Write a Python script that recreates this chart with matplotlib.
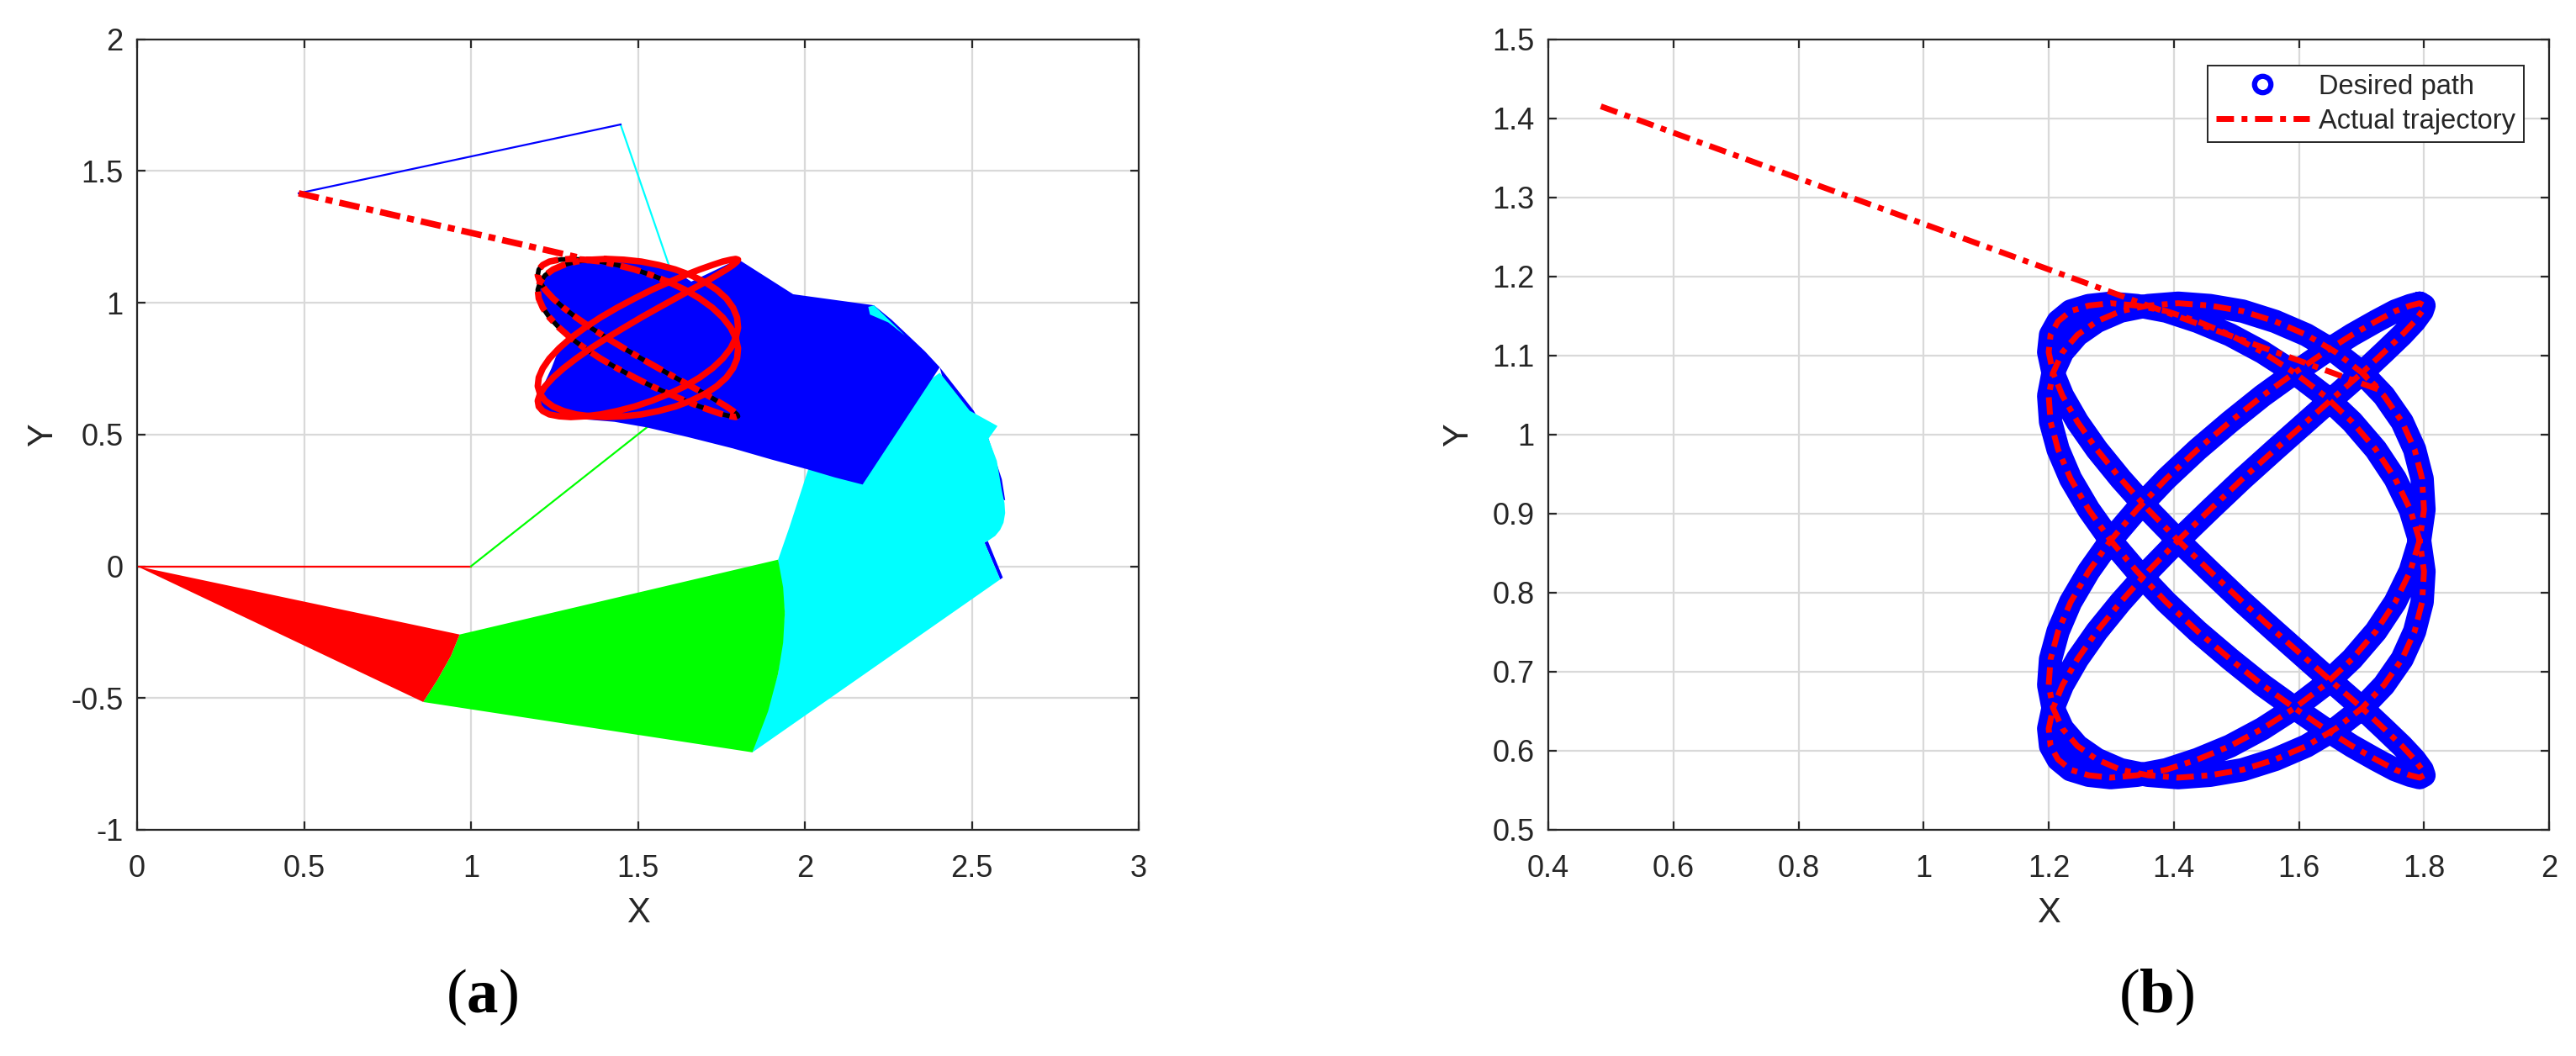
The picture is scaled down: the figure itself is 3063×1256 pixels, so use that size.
import matplotlib
matplotlib.use("Agg")
import matplotlib.pyplot as plt
from matplotlib.lines import Line2D

plt.rcParams['font.family'] = ['Liberation Sans', 'DejaVu Sans']
plt.rcParams['mathtext.fontset'] = 'custom'
plt.rcParams['mathtext.bf'] = 'Liberation Serif:bold'
plt.rcParams['mathtext.rm'] = 'Liberation Serif'

W, H = 3063, 1256
INK = '#262626'
GRID = '#d9d9d9'

# path, one lap
desired_x = [1.793, 1.800, 1.797, 1.785, 1.765, 1.736, 1.701, 1.659, 1.612, 1.562, 1.510, 1.458,
             1.407, 1.359, 1.315, 1.277, 1.246, 1.222, 1.207, 1.200, 1.203, 1.215, 1.235, 1.264,
             1.299, 1.341, 1.388, 1.438, 1.490, 1.542, 1.593, 1.641, 1.685, 1.723, 1.754, 1.778,
             1.793, 1.800, 1.797, 1.785, 1.765, 1.736, 1.701, 1.659, 1.612, 1.562, 1.510, 1.458,
             1.407, 1.359, 1.315, 1.277, 1.246, 1.222, 1.207, 1.200, 1.203, 1.215, 1.235, 1.264,
             1.299, 1.341, 1.388, 1.438, 1.490, 1.542, 1.593, 1.641, 1.685, 1.723, 1.754, 1.778,
             1.793, 1.800, 1.797, 1.785, 1.765, 1.736, 1.701, 1.659, 1.612, 1.562, 1.510, 1.458,
             1.407, 1.359, 1.315, 1.277, 1.246, 1.222, 1.207, 1.200, 1.203, 1.215, 1.235, 1.264,
             1.299, 1.341, 1.388, 1.438, 1.490, 1.542, 1.593, 1.641, 1.685, 1.723, 1.754, 1.778,
             1.793, 1.800, 1.797, 1.785, 1.765, 1.736, 1.701, 1.659, 1.612, 1.562, 1.510, 1.458,
             1.407, 1.359, 1.315, 1.277, 1.246, 1.222, 1.207, 1.200, 1.203, 1.215, 1.235, 1.264,
             1.299, 1.341, 1.388, 1.438, 1.490, 1.542, 1.593, 1.641, 1.685, 1.723, 1.754, 1.778,
             1.793]
desired_y = [1.166, 1.163, 1.156, 1.143, 1.126, 1.104, 1.078, 1.049, 1.016, 0.981, 0.944, 0.905,
             0.866, 0.827, 0.788, 0.751, 0.716, 0.683, 0.654, 0.628, 0.606, 0.589, 0.576, 0.569,
             0.566, 0.569, 0.576, 0.589, 0.606, 0.628, 0.654, 0.683, 0.716, 0.751, 0.788, 0.827,
             0.866, 0.905, 0.944, 0.981, 1.016, 1.049, 1.078, 1.104, 1.126, 1.143, 1.156, 1.163,
             1.166, 1.163, 1.156, 1.143, 1.126, 1.104, 1.078, 1.049, 1.016, 0.981, 0.944, 0.905,
             0.866, 0.827, 0.788, 0.751, 0.716, 0.683, 0.654, 0.628, 0.606, 0.589, 0.576, 0.569,
             0.566, 0.569, 0.576, 0.589, 0.606, 0.628, 0.654, 0.683, 0.716, 0.751, 0.788, 0.827,
             0.866, 0.905, 0.944, 0.981, 1.016, 1.049, 1.078, 1.104, 1.126, 1.143, 1.156, 1.163,
             1.166, 1.163, 1.156, 1.143, 1.126, 1.104, 1.078, 1.049, 1.016, 0.981, 0.944, 0.905,
             0.866, 0.827, 0.788, 0.751, 0.716, 0.683, 0.654, 0.628, 0.606, 0.589, 0.576, 0.569,
             0.566, 0.569, 0.576, 0.589, 0.606, 0.628, 0.654, 0.683, 0.716, 0.751, 0.788, 0.827,
             0.866, 0.905, 0.944, 0.981, 1.016, 1.049, 1.078, 1.104, 1.126, 1.143, 1.156, 1.163,
             1.166]

# straight approach from the start point
approach_x = [0.484, 1.73]
approach_y = [1.415, 1.056]
approach_a_x = [0.484, 1.32]
approach_a_y = [1.415, 1.172]

# arm links, panel (a)
link1_x, link1_y = [0, 1], [0, 0]
link2_x, link2_y = [1, 1.71], [0, 0.71]
link3_x, link3_y = [1.71, 1.448], [0.71, 1.676]
link4_x, link4_y = [1.448, 0.484], [1.676, 1.415]

# swept areas, panel (a)
red_x = [0, 0.966, 0.94, 0.90, 0.857]
red_y = [0, -0.259, -0.34, -0.43, -0.515]
green_x = [0.966, 1.92, 1.935, 1.94, 1.935, 1.92, 1.89, 1.843, 0.857, 0.90, 0.94]
green_y = [-0.259, 0.025, -0.08, -0.177, -0.29, -0.407, -0.55, -0.706, -0.515, -0.43, -0.34]
cyan_x = [1.92, 1.954, 2.01, 2.404, 2.494, 2.577, 2.55, 2.575, 2.59, 2.598, 2.60, 2.595, 2.585, 2.57, 2.548,
          2.538, 2.585, 1.843, 1.92, 1.94]
cyan_y = [0.025, 0.149, 0.367, 0.734, 0.59, 0.532, 0.484, 0.40, 0.287, 0.24, 0.202, 0.165, 0.138, 0.115, 0.096,
          0.09, -0.05, -0.706, -0.407, -0.177]
blue_edge_x = [2.404, 2.506, 2.55, 2.59, 2.60, 2.50]
blue_edge_y = [0.755, 0.59, 0.484, 0.33, 0.25, 0.30]
blue_tip_x = [2.548, 2.593, 2.585, 2.538]
blue_tip_y = [0.096, -0.043, -0.05, 0.09]
blue_x = [1.80, 1.965, 2.207, 2.26, 2.31, 2.36, 2.404, 2.173, 2.09, 2.01, 1.90, 1.785, 1.65, 1.526, 1.43, 1.334,
          1.299, 1.264, 1.235, 1.215, 1.203, 1.20, 1.207, 1.222, 1.241, 1.264, 1.299, 1.264, 1.235, 1.215,
          1.203, 1.20, 1.207, 1.222, 1.246, 1.277, 1.315, 1.359, 1.407, 1.458, 1.51, 1.562, 1.612, 1.66]
blue_y = [1.165, 1.032, 0.99, 0.935, 0.875, 0.815, 0.755, 0.31, 0.337, 0.367, 0.405, 0.447, 0.49, 0.527, 0.548, 0.558,
          0.566, 0.569, 0.576, 0.589, 0.606, 0.63, 0.654, 0.70, 0.751, 0.827, 0.866, 0.905, 0.944, 0.981,
          1.016, 1.049, 1.078, 1.104, 1.126, 1.143, 1.156, 1.163, 1.166, 1.163, 1.156, 1.143, 1.12, 1.08]
sliver_x = [2.19, 2.207, 2.30, 2.25, 2.195]
sliver_y = [0.984, 0.99, 0.875, 0.925, 0.955]

xticks_a = [0, 0.5, 1, 1.5, 2, 2.5, 3]
yticks_a = [-1, -0.5, 0, 0.5, 1, 1.5, 2]
xticks_b = [0.4, 0.6, 0.8, 1, 1.2, 1.4, 1.6, 1.8, 2]
yticks_b = [0.5, 0.6, 0.7, 0.8, 0.9, 1, 1.1, 1.2, 1.3, 1.4, 1.5]


def style_axes(ax, xticks, yticks, ylabel_x):
    ax.set_xticks(xticks)
    ax.set_yticks(yticks)
    ax.set_xticklabels([f'{v:g}' for v in xticks])
    ax.set_yticklabels([f'{v:g}' for v in yticks])
    ax.set_xlim(xticks[0], xticks[-1])
    ax.set_ylim(yticks[0], yticks[-1])
    ax.grid(True, color=GRID, linewidth=1.6)
    ax.set_axisbelow(True)
    ax.tick_params(axis='x', direction='in', top=True, length=7, width=1.6, color=INK,
                   labelcolor=INK, labelsize=26, pad=21)
    ax.tick_params(axis='y', direction='in', right=True, length=7, width=1.6, color=INK,
                   labelcolor=INK, labelsize=26, pad=12)
    for sp in ax.spines.values():
        sp.set_color(INK)
        sp.set_linewidth(1.6)
    ax.set_xlabel('X', fontsize=30, color=INK)
    ax.set_ylabel('Y', fontsize=30, color=INK)
    ax.xaxis.set_label_coords(0.5, -0.084)
    ax.yaxis.set_label_coords(ylabel_x, 0.5)


fig = plt.figure(figsize=(W / 100, H / 100), dpi=100)
ax_a = fig.add_axes([163 / W, 1 - 987 / H, 1191 / W, 940.5 / H])
ax_b = fig.add_axes([1841 / W, 1 - 987 / H, 1190 / W, 940.5 / H])
style_axes(ax_a, xticks_a, yticks_a, -0.077)
style_axes(ax_b, xticks_b, yticks_b, -0.073)

# panel (a)
ax_a.plot(link1_x, link1_y, color='#ff0000', lw=1.6, zorder=2)
ax_a.plot(link2_x, link2_y, color='#00ff00', lw=1.6, zorder=2)
ax_a.plot(link3_x, link3_y, color='#00ffff', lw=1.6, zorder=2)
ax_a.plot(link4_x, link4_y, color='#0000ff', lw=1.6, zorder=2)
ax_a.fill(blue_edge_x, blue_edge_y, color='#0000ff', lw=0, zorder=3)
ax_a.fill(blue_tip_x, blue_tip_y, color='#0000ff', lw=0, zorder=3)
ax_a.fill(cyan_x, cyan_y, color='#00ffff', lw=0, zorder=3)
ax_a.fill(green_x, green_y, color='#00ff00', lw=0, zorder=3)
ax_a.fill(red_x, red_y, color='#ff0000', lw=0, zorder=3)
ax_a.fill(blue_x, blue_y, color='#0000ff', lw=0, zorder=3)
ax_a.fill(sliver_x, sliver_y, color='#00ffff', lw=0, zorder=3)

# 48..102 is the stretch where the black line shows through the dashes
dash_a = (0, (3.2, 1.1, 1.1, 1.1))
ax_a.plot(desired_x[48:103], desired_y[48:103], color='black', lw=4, zorder=4)
ax_a.plot(desired_x[48:103], desired_y[48:103], color='#ff0000', lw=5.5, ls=dash_a, zorder=4)
ax_a.plot(approach_a_x, approach_a_y, color='#ff0000', lw=5.5, ls=dash_a, zorder=4)
ax_a.plot(desired_x[102:] + desired_x[1:49], desired_y[102:] + desired_y[1:49], color='#ff0000', lw=5.5,
          solid_joinstyle='round', zorder=4)

# panel (b)
ax_b.plot(desired_x, desired_y, color='#0000ff', lw=20, solid_joinstyle='round', solid_capstyle='round')
actual_x = approach_x + desired_x[42:] + desired_x[1:43]
actual_y = approach_y + desired_y[42:] + desired_y[1:43]
dash_b = (0, (3, 1.3, 1, 1.3))
ax_b.plot(actual_x, actual_y, color='#ff0000', lw=5, ls=dash_b)

handles = [Line2D([], [], color='#0000ff', ls='none', marker='o', ms=14, mfc='none', mew=4.5),
           Line2D([], [], color='#ff0000', lw=5, ls=dash_b)]
leg = ax_b.legend(handles, ['Desired path', 'Actual trajectory'], loc='upper right',
                  bbox_to_anchor=((3001 - 1841) / 1190, 1 - (78 - 46.5) / 940.5), borderaxespad=0,
                  fontsize=23.5, fancybox=False, framealpha=1, edgecolor=INK,
                  handlelength=3.4, handletextpad=0.35, labelspacing=0.3,
                  borderpad=0.3, labelcolor=INK)
leg.get_frame().set_linewidth(1.4)

fig.text(573 / W, 1 - 1186 / H, r'($\mathbf{a}$)', family='Liberation Serif', fontsize=54,
         ha='center', va='center', color='black')
fig.text(2564 / W, 1 - 1186 / H, r'($\mathbf{b}$)', family='Liberation Serif', fontsize=54,
         ha='center', va='center', color='black')

fig.savefig('out.png', dpi=100)
